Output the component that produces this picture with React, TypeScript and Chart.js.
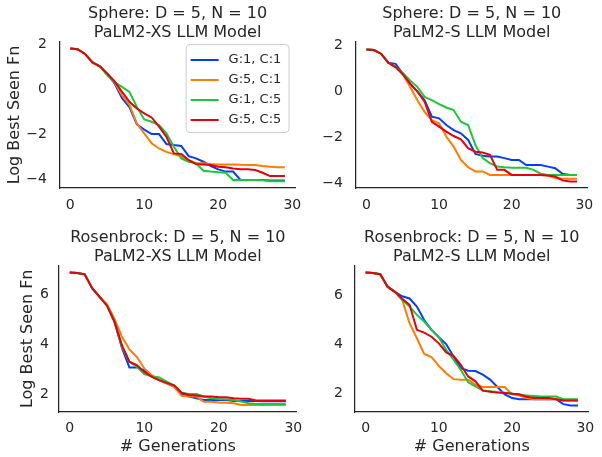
import React, { useEffect, useRef } from 'react';
import { Chart, registerables } from 'chart.js';

Chart.register(...registerables);

// ---------- data ----------
const GENERATIONS = [0, 1, 2, 3, 4, 5, 6, 7, 8, 9, 10, 11, 12, 13, 14, 15, 16, 17, 18, 19, 20, 21, 22, 23, 24, 25, 26, 27, 28, 29];
const SERIES_LABELS = ['G:1, C:1', 'G:5, C:1', 'G:1, C:5', 'G:5, C:5'];
const X_TICKS = [0, 10, 20, 30];

// Sphere, PaLM2-XS
const SPHERE_XS_G1C1 = [1.81, 1.78, 1.57, 1.19, 1.02, 0.68, 0.25, -0.4, -0.8, -1.57, -1.8, -2.0, -2.0, -2.44, -2.49, -2.53, -2.98, -3.08, -3.23, -3.42, -3.57, -3.67, -3.67, -4.04, -4.04, -4.04, -4.04, -4.07, -4.07, -4.07];
const SPHERE_XS_G5C1 = [1.81, 1.78, 1.57, 1.19, 1.02, 0.65, 0.3, -0.27, -0.7, -1.53, -1.97, -2.41, -2.64, -2.79, -2.89, -3.0, -3.16, -3.3, -3.3, -3.33, -3.35, -3.35, -3.35, -3.37, -3.38, -3.38, -3.42, -3.45, -3.48, -3.48];
const SPHERE_XS_G1C5 = [1.81, 1.78, 1.57, 1.19, 1.02, 0.62, 0.3, 0.1, -0.12, -0.79, -1.35, -1.45, -1.6, -1.97, -2.56, -3.08, -3.23, -3.3, -3.63, -3.67, -3.7, -3.72, -4.04, -4.04, -4.04, -4.04, -4.05, -4.1, -4.1, -4.1];
const SPHERE_XS_G5C5 = [1.81, 1.78, 1.57, 1.19, 1.02, 0.7, 0.35, -0.12, -0.56, -0.86, -1.08, -1.26, -1.67, -2.12, -2.86, -2.89, -3.16, -3.33, -3.35, -3.38, -3.45, -3.48, -3.53, -3.57, -3.57, -3.6, -3.72, -3.87, -3.87, -3.87];

// Sphere, PaLM2-S
const SPHERE_S_G1C1 = [1.82, 1.8, 1.64, 1.25, 1.2, 0.78, 0.34, 0.0, -0.38, -1.1, -1.17, -1.46, -1.68, -1.82, -2.11, -2.72, -2.8, -2.83, -2.83, -2.9, -2.98, -2.98, -3.2, -3.2, -3.2, -3.27, -3.34, -3.58, -3.63, -3.63];
const SPHERE_S_G5C1 = [1.82, 1.8, 1.64, 1.25, 1.06, 0.75, 0.2, -0.38, -0.89, -1.25, -1.39, -1.97, -2.4, -2.98, -3.3, -3.48, -3.48, -3.63, -3.63, -3.63, -3.63, -3.63, -3.63, -3.63, -3.63, -3.66, -3.77, -3.8, -3.8, -3.8];
const SPHERE_S_G1C5 = [1.82, 1.8, 1.64, 1.25, 1.06, 0.8, 0.48, 0.2, -0.24, -0.38, -0.55, -0.7, -0.81, -1.32, -1.46, -2.33, -2.9, -3.12, -3.27, -3.3, -3.32, -3.32, -3.32, -3.41, -3.58, -3.63, -3.63, -3.63, -3.63, -3.63];
const SPHERE_S_G5C5 = [1.82, 1.8, 1.64, 1.25, 1.06, 0.75, 0.34, 0.0, -0.45, -1.32, -1.53, -1.75, -1.94, -2.08, -2.47, -2.62, -2.66, -2.76, -3.41, -3.41, -3.63, -3.63, -3.63, -3.63, -3.63, -3.66, -3.7, -3.87, -3.92, -3.92];

// Rosenbrock, PaLM2-XS
const ROSEN_XS_G1C1 = [6.88, 6.86, 6.81, 6.25, 5.9, 5.55, 4.9, 3.85, 3.07, 3.07, 2.95, 2.72, 2.56, 2.43, 2.3, 2.0, 1.9, 1.83, 1.76, 1.76, 1.76, 1.76, 1.72, 1.72, 1.72, 1.72, 1.71, 1.71, 1.71, 1.71];
const ROSEN_XS_G5C1 = [6.88, 6.86, 6.81, 6.25, 5.9, 5.6, 5.03, 4.3, 3.79, 3.49, 3.03, 2.76, 2.56, 2.43, 2.3, 1.93, 1.9, 1.9, 1.69, 1.69, 1.66, 1.65, 1.63, 1.56, 1.56, 1.56, 1.56, 1.56, 1.56, 1.56];
const ROSEN_XS_G1C5 = [6.88, 6.86, 6.81, 6.25, 5.9, 5.55, 4.96, 3.9, 3.29, 3.1, 2.8, 2.72, 2.67, 2.5, 2.35, 2.05, 2.0, 2.0, 1.9, 1.83, 1.8, 1.79, 1.76, 1.7, 1.63, 1.6, 1.6, 1.6, 1.6, 1.6];
const ROSEN_XS_G5C5 = [6.88, 6.86, 6.81, 6.25, 5.9, 5.55, 4.9, 3.96, 3.3, 3.16, 2.89, 2.69, 2.56, 2.45, 2.35, 2.05, 1.96, 1.94, 1.9, 1.9, 1.87, 1.87, 1.83, 1.81, 1.81, 1.74, 1.74, 1.74, 1.74, 1.74];

// Rosenbrock, PaLM2-S
const ROSEN_S_G1C1 = [6.92, 6.9, 6.85, 6.34, 6.13, 5.95, 5.86, 5.53, 4.98, 4.58, 4.28, 4.0, 3.49, 3.02, 2.91, 2.9, 2.75, 2.55, 2.25, 1.95, 1.8, 1.75, 1.75, 1.75, 1.75, 1.75, 1.75, 1.55, 1.5, 1.5];
const ROSEN_S_G5C1 = [6.92, 6.9, 6.85, 6.34, 6.13, 5.8, 4.85, 4.24, 3.6, 3.47, 3.11, 2.81, 2.57, 2.55, 2.55, 2.34, 2.25, 2.25, 2.25, 2.25, 1.95, 1.9, 1.8, 1.75, 1.75, 1.75, 1.75, 1.7, 1.7, 1.7];
const ROSEN_S_G1C5 = [6.92, 6.9, 6.85, 6.34, 6.13, 5.8, 5.53, 5.19, 4.92, 4.58, 4.28, 3.76, 3.36, 2.95, 2.44, 2.27, 2.11, 2.08, 2.05, 2.02, 1.98, 1.92, 1.9, 1.88, 1.86, 1.86, 1.86, 1.75, 1.75, 1.75];
const ROSEN_S_G5C5 = [6.92, 6.9, 6.85, 6.34, 6.13, 5.85, 5.6, 4.58, 4.47, 4.3, 4.03, 3.66, 3.52, 3.15, 2.68, 2.48, 2.1, 2.06, 2.02, 2.0, 1.97, 1.95, 1.85, 1.8, 1.8, 1.8, 1.75, 1.7, 1.7, 1.7];

const Y_TICKS_SPHERE = [-4, -2, 0, 2];
const Y_TICKS_ROSEN = [2, 4, 6];

// ---------- styles ----------
const COLORS = ['#023eff', '#ff7c00', '#1ac938', '#e8000b'];
const TEXT = '#262626';
const FONT = '"DejaVu Sans", sans-serif';

type Panel = {
  key: string;
  title: string[];
  series: number[][];
  yTicks: number[];
  yMin: number;
  yMax: number;
  left: number;
  top: number;
  width: number;
  height: number;
  padRight: number;
  yAxisW: number;
  xAxisH: number;
  yTickPad: number;
  xTickPad: number;
  titlePadTop: number;
  titlePadBottom: number;
  showYLabel: boolean;
  yLabelPad: number;
  showXLabel: boolean;
  legend: boolean;
};

const PANELS: Panel[] = [
  {
    key: 'tl', title: ['Sphere: D = 5, N = 10', 'PaLM2-XS LLM Model'],
    series: [SPHERE_XS_G1C1, SPHERE_XS_G5C1, SPHERE_XS_G1C5, SPHERE_XS_G5C5],
    yTicks: Y_TICKS_SPHERE, yMin: -4.4, yMax: 2.1,
    left: 0, top: 0, width: 310, height: 225, padRight: 10, yAxisW: 59.5, xAxisH: 37,
    yTickPad: 12.5, xTickPad: 8.6, titlePadTop: 4.8, titlePadBottom: 0.4,
    showYLabel: true, yLabelPad: 5.4, showXLabel: false, legend: true,
  },
  {
    key: 'tr', title: ['Sphere: D = 5, N = 10', 'PaLM2-S LLM Model'],
    series: [SPHERE_S_G1C1, SPHERE_S_G5C1, SPHERE_S_G1C5, SPHERE_S_G5C5],
    yTicks: Y_TICKS_SPHERE, yMin: -4.2, yMax: 2.15,
    left: 300, top: 0, width: 302, height: 225, padRight: 6, yAxisW: 56, xAxisH: 37,
    yTickPad: 13, xTickPad: 8.6, titlePadTop: 4.8, titlePadBottom: 0.4,
    showYLabel: false, yLabelPad: 0, showXLabel: false, legend: false,
  },
  {
    key: 'bl', title: ['Rosenbrock: D = 5, N = 10', 'PaLM2-XS LLM Model'],
    series: [ROSEN_XS_G1C1, ROSEN_XS_G5C1, ROSEN_XS_G1C5, ROSEN_XS_G5C5],
    yTicks: Y_TICKS_ROSEN, yMin: 1.28, yMax: 7.16,
    left: 0, top: 225, width: 310, height: 232, padRight: 10, yAxisW: 59, xAxisH: 45,
    yTickPad: 10, xTickPad: 7.6, titlePadTop: 3.8, titlePadBottom: 0,
    showYLabel: true, yLabelPad: 17.9, showXLabel: true, legend: false,
  },
  {
    key: 'br', title: ['Rosenbrock: D = 5, N = 10', 'PaLM2-S LLM Model'],
    series: [ROSEN_S_G1C1, ROSEN_S_G5C1, ROSEN_S_G1C5, ROSEN_S_G5C5],
    yTicks: Y_TICKS_ROSEN, yMin: 1.23, yMax: 7.2,
    left: 300, top: 225, width: 302, height: 232, padRight: 7, yAxisW: 55, xAxisH: 45,
    yTickPad: 12, xTickPad: 7.6, titlePadTop: 3.8, titlePadBottom: 0,
    showYLabel: false, yLabelPad: 0, showXLabel: true, legend: false,
  },
];

const fmt = (v: number | string) => String(v).replace('-', '\u2212');

const innerLegend = {
  id: 'innerLegend',
  afterDatasetsDraw(chart: any, _args: any, opts: any) {
    if (!opts || !opts.show) return;
    const ctx = chart.ctx as CanvasRenderingContext2D;
    const a = chart.chartArea;
    const w = 103;
    const h = 88;
    const x = a.right - 7 - w;
    const y = a.top + 2;
    ctx.save();
    ctx.beginPath();
    if ((ctx as any).roundRect) (ctx as any).roundRect(x + 0.5, y + 0.5, w, h, 4);
    else ctx.rect(x + 0.5, y + 0.5, w, h);
    ctx.fillStyle = 'rgba(255,255,255,0.8)';
    ctx.fill();
    ctx.strokeStyle = '#cccccc';
    ctx.lineWidth = 1;
    ctx.stroke();
    chart.data.datasets.forEach((ds: any, i: number) => {
      const cy = y + 16 + i * 20;
      ctx.beginPath();
      ctx.moveTo(x + 5, cy);
      ctx.lineTo(x + 33, cy);
      ctx.strokeStyle = ds.borderColor;
      ctx.lineWidth = 2;
      ctx.stroke();
      ctx.fillStyle = TEXT;
      ctx.font = `13px ${FONT}`;
      ctx.textBaseline = 'middle';
      ctx.textAlign = 'left';
      ctx.fillText(ds.label, x + 43, cy);
    });
    ctx.restore();
  },
};

function PanelChart({ p }: { p: Panel }) {
  const ref = useRef<HTMLCanvasElement | null>(null);
  useEffect(() => {
    if (!ref.current) return;
    const chart = new Chart(ref.current, {
      type: 'line',
      data: {
        datasets: p.series.map((vals, i) => ({
          label: SERIES_LABELS[i],
          data: GENERATIONS.map((g, j) => ({ x: g, y: vals[j] })),
          borderColor: COLORS[i],
          backgroundColor: COLORS[i],
          borderWidth: 2,
          pointRadius: 0,
          tension: 0,
          order: 4 - i,
        })),
      },
      options: {
        animation: false,
        responsive: false,
        devicePixelRatio: 1,
        events: [],
        layout: { padding: { left: 0, right: p.padRight, top: 0, bottom: 0 } },
        plugins: {
          legend: { display: false },
          tooltip: { enabled: false },
          title: {
            display: true,
            text: p.title,
            fullSize: false,
            color: TEXT,
            font: { family: FONT, size: 16, weight: 'normal', lineHeight: 1.15 },
            padding: { top: p.titlePadTop, bottom: p.titlePadBottom },
          },
          innerLegend: { show: p.legend },
        } as any,
        scales: {
          x: {
            type: 'linear',
            min: -1.45,
            max: 30.45,
            grid: { display: false, drawTicks: false },
            border: { display: true, color: TEXT, width: 1.25 },
            ticks: { color: TEXT, font: { family: FONT, size: 14 }, padding: p.xTickPad, maxRotation: 0, callback: (v: any) => fmt(v) },
            afterBuildTicks: (s: any) => { s.ticks = X_TICKS.map((v) => ({ value: v })); },
            afterFit: (s: any) => { s.height = p.xAxisH; },
            title: {
              display: p.showXLabel,
              text: '# Generations',
              color: TEXT,
              font: { family: FONT, size: 16 },
              padding: { top: 0, bottom: 0.4 },
            },
          },
          y: {
            type: 'linear',
            min: p.yMin,
            max: p.yMax,
            grid: { display: false, drawTicks: false },
            border: { display: true, color: TEXT, width: 1.25 },
            ticks: { color: TEXT, font: { family: FONT, size: 14 }, padding: p.yTickPad, callback: (v: any) => fmt(v) },
            afterBuildTicks: (s: any) => { s.ticks = p.yTicks.map((v) => ({ value: v })); },
            afterFit: (s: any) => { s.width = p.yAxisW; },
            title: {
              display: p.showYLabel,
              text: 'Log Best Seen Fn',
              color: TEXT,
              font: { family: FONT, size: 16 },
              padding: { top: p.yLabelPad, bottom: 0 },
            },
          },
        },
      },
      plugins: [innerLegend as any],
    } as any);
    return () => chart.destroy();
  }, [p]);
  return (
    <canvas
      ref={ref}
      width={p.width}
      height={p.height}
      style={{ position: 'absolute', left: p.left, top: p.top, width: p.width, height: p.height }}
    />
  );
}

export default function App() {
  useEffect(() => {
    document.body.style.margin = '0';
    document.body.style.background = '#ffffff';
  }, []);
  return (
    <div style={{ position: 'relative', width: 602, height: 457, background: '#ffffff', overflow: 'hidden' }}>
      {PANELS.map((p) => (
        <PanelChart key={p.key} p={p} />
      ))}
    </div>
  );
}
